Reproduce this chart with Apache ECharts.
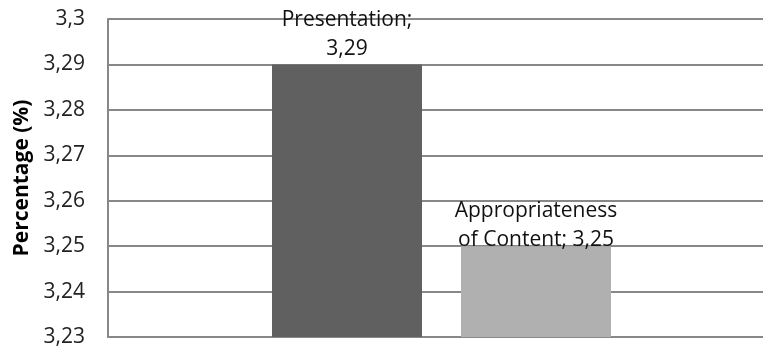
<!DOCTYPE html>
<html>
<head>
<meta charset="utf-8">
<script src="https://cdn.jsdelivr.net/npm/echarts@6/dist/echarts.min.js"></script>
<style>
  html, body { margin: 0; padding: 0; background: #fff; }
  #chart { width: 763px; height: 348px; }
</style>
</head>
<body>
<div id="chart"></div>
<script>
// Mean scores per evaluation criterion
const categories = [''];
const seriesNames = ['Presentation', 'Appropriateness of Content'];
const presentationValues = [3.29];
const contentValues = [3.25];
const yMin = 3.23;
const yMax = 3.30;
const yStep = 0.01;

const fmt = v => String(parseFloat(v.toFixed(2))).replace('.', ',');

const chart = echarts.init(document.getElementById('chart'));
const font = '"Open Sans", "Noto Sans", sans-serif';

chart.setOption({
  animation: false,
  grid: {
    left: 108, top: 19, width: 667, bottom: 11,
    containLabel: false,
    outerBoundsMode: 'none'
  },
  xAxis: {
    type: 'category',
    data: categories,
    axisLine: { lineStyle: { color: '#888', width: 2 } },
    axisTick: { show: false },
    axisLabel: { show: false }
  },
  yAxis: {
    type: 'value',
    min: yMin,
    max: yMax,
    interval: yStep,
    name: 'Percentage (%)',
    nameLocation: 'middle',
    nameGap: 73,
    nameTextStyle: { fontFamily: font, fontWeight: 'bold', fontSize: 21, color: '#000' },
    axisLine: { show: true, lineStyle: { color: '#888', width: 2 } },
    axisTick: { show: false },
    splitLine: { lineStyle: { color: '#888', width: 2 } },
    axisLabel: {
      formatter: fmt,
      margin: 23,
      fontFamily: font,
      fontSize: 21,
      color: '#222'
    }
  },
  series: [
    {
      name: seriesNames[0],
      type: 'bar',
      data: presentationValues,
      barWidth: 150,
      barGap: '26%',
      itemStyle: { color: '#606060' },
      label: {
        show: true,
        position: 'top',
        distance: 1,
        align: 'center',
        lineHeight: 29,
        fontFamily: font,
        fontSize: 21,
        color: '#111',
        formatter: p => seriesNames[0] + ';\n' + fmt(p.value)
      }
    },
    {
      name: seriesNames[1],
      type: 'bar',
      data: contentValues,
      barWidth: 150,
      itemStyle: { color: '#b0b0b0' },
      label: {
        show: true,
        position: 'top',
        distance: -8,
        align: 'center',
        lineHeight: 29,
        fontFamily: font,
        fontSize: 21,
        color: '#111',
        formatter: p => 'Appropriateness\nof Content; ' + fmt(p.value)
      }
    }
  ]
});
</script>
</body>
</html>
